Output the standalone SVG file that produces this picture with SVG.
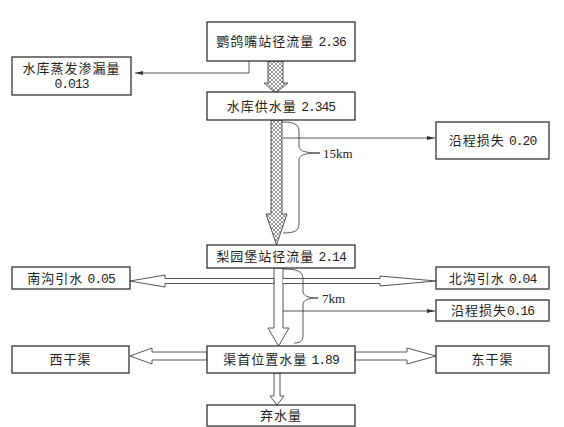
<svg xmlns="http://www.w3.org/2000/svg" width="564" height="427" viewBox="0 0 564 427">
<style>
.box{fill:#fff;stroke:#222;stroke-width:1.2}
.t{font-family:"Liberation Serif","Noto Sans CJK SC",serif;font-size:13px;fill:#222;text-anchor:middle;letter-spacing:1px}
.n{font-family:"Liberation Mono",monospace;font-size:13px;letter-spacing:-1px}
.lbl{font-family:"Liberation Serif",serif;font-size:13px;fill:#222}
.ln{fill:none;stroke:#444;stroke-width:0.9}
.wa{fill:#fff;stroke:#444;stroke-width:0.9}
.ha{fill:url(#hatch);stroke:#444;stroke-width:0.9}
</style>
<defs>
<pattern id="hatch" width="4" height="4" patternUnits="userSpaceOnUse">
<rect width="4" height="4" fill="#fff"/>
<path d="M0,0 L4,4 M4,0 L0,4" stroke="#666" stroke-width="0.7"/>
</pattern>
<marker id="ah" markerWidth="8" markerHeight="5" refX="8" refY="2.5" orient="auto" markerUnits="userSpaceOnUse">
<path d="M0,0.5 L8,2.5 L0,4.5 Z" fill="#333"/>
</marker>
</defs>
<g id="connectors">
<polygon class="ha" points="268,61 283,61 283,83 288,83 275.5,93 264,83 268,83"/>
<polygon class="ha" points="271,120 282,120 282,214 287,214 276.5,245 266,214 271,214"/>
<polyline class="ln" points="249,61 249,73 135,73" marker-end="url(#ah)"/>
<line class="ln" x1="283" y1="138" x2="435" y2="138" marker-end="url(#ah)"/>
<path class="ln" d="M282,122 C294,122 299,124 299,132 L299,146 C299,151 305,153 320,153 C305,153 299,155 299,160 L299,224 C299,231 294,233 283,233"/>
<text class="lbl" x="323" y="157.5">15km</text>
<polygon class="wa" points="274,268 283,268 283,328 289,328 278.5,346 268,328 274,328"/>
<path class="wa" d="M274,278.5 H165 V275 L130,281 L165,287 V283.5 H274 Z"/>
<path class="wa" d="M283,278.5 H380 V276 L436,281 L380,286 V283.5 H283"/>
<line class="ln" x1="283" y1="311" x2="435" y2="311" marker-end="url(#ah)"/>
<path class="ln" d="M283,269 C297,269 303,271 303,279 L303,291 C303,296 308,298 318,298 C308,298 303,300 303,305 L303,336 C303,341 300,343 294,343"/>
<text class="lbl" x="322" y="302.5">7km</text>
<path class="wa" d="M207,352 H152 V348 L130,356 L152,364 V360 H207 Z"/>
<path class="wa" d="M355,352 H407 V348 L436,356 L407,364 V360 H355 Z"/>
<path class="wa" d="M274,373 H280 V396 H284 L277,405 L270,396 H274 Z"/>
</g>
<g id="n1"><rect class="box" x="207" y="22" width="148" height="39"/><text class="t" x="281" y="46">鹦鸽嘴站径流量 <tspan class="n">2.36</tspan></text></g>
<g id="n2"><rect class="box" x="12" y="57" width="119" height="38"/><text class="t" x="71.5" y="72.5">水库蒸发渗漏量</text><text class="t" x="71.5" y="88"><tspan class="n">0.013</tspan></text></g>
<g id="n3"><rect class="box" x="207" y="92" width="148" height="28"/><text class="t" x="281" y="110.5">水库供水量 <tspan class="n">2.345</tspan></text></g>
<g id="n4"><rect class="box" x="436" y="122" width="113" height="37"/><text class="t" x="492.5" y="145">沿程损失 <tspan class="n">0.20</tspan></text></g>
<g id="n5"><rect class="box" x="207" y="245" width="148" height="23"/><text class="t" x="281" y="261">梨园堡站径流量 <tspan class="n">2.14</tspan></text></g>
<g id="n6"><rect class="box" x="12" y="267" width="118" height="22"/><text class="t" x="71" y="282.5">南沟引水 <tspan class="n">0.05</tspan></text></g>
<g id="n7"><rect class="box" x="436" y="267" width="113" height="22"/><text class="t" x="492.5" y="282.5">北沟引水 <tspan class="n">0.04</tspan></text></g>
<g id="n8"><rect class="box" x="436" y="300" width="113" height="21"/><text class="t" x="492.5" y="315">沿程损失<tspan class="n">0.16</tspan></text></g>
<g id="n9"><rect class="box" x="12" y="346" width="117" height="27"/><text class="t" x="70.5" y="364">西干渠</text></g>
<g id="n10"><rect class="box" x="207" y="346" width="148" height="27"/><text class="t" x="281" y="364">渠首位置水量 <tspan class="n">1.89</tspan></text></g>
<g id="n11"><rect class="box" x="436" y="346" width="113" height="27"/><text class="t" x="492.5" y="364">东干渠</text></g>
<g id="n12"><rect class="box" x="207" y="405" width="148" height="21"/><text class="t" x="281" y="420">弃水量</text></g>
</svg>
